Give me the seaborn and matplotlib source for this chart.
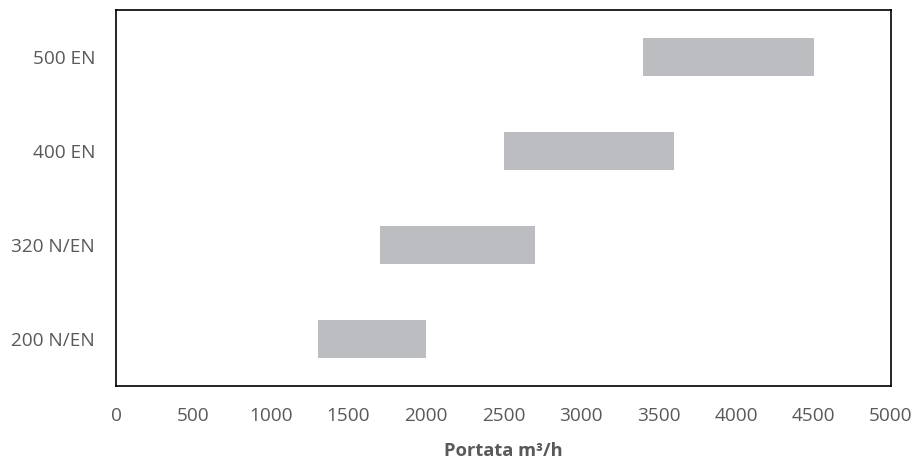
import matplotlib
matplotlib.use("Agg")
import matplotlib.pyplot as plt
import seaborn as sns
import pandas as pd

categories = ["500 EN", "400 EN", "320 N/EN", "200 N/EN"]
start_values = [3400, 2500, 1700, 1300]
end_values = [4500, 3600, 2700, 2000]
x_ticks = [0, 500, 1000, 1500, 2000, 2500, 3000, 3500, 4000, 4500, 5000]

sns.set_theme(style="white")
plt.rcParams["font.family"] = ["Open Sans", "DejaVu Sans"]

df = pd.DataFrame({
    "cat": categories,
    "start": start_values,
    "width": [e - s for s, e in zip(start_values, end_values)],
})

fig = plt.figure(figsize=(9.16, 4.59), dpi=100)
ax = fig.add_axes([116/916, 73/459, 775/916, 376/459])

sns.barplot(data=df, x="width", y="cat", orient="h", left=df["start"].values,
            color="#BCBDC0", saturation=1, width=0.4, ax=ax, edgecolor="none")

ax.set_xlim(0, 5000)
ax.set_ylim(3.5, -0.5)
ax.set_xticks(x_ticks)
ax.set_xticklabels([str(t) for t in x_ticks])
ax.tick_params(axis="both", length=0, labelsize=13.7, labelcolor="#595959")
ax.tick_params(axis="y", pad=15)
ax.tick_params(axis="x", pad=15)
ax.set_ylabel("")
ax.set_xlabel("Portata m³/h", fontsize=13.2, fontweight="bold", color="#595959", labelpad=12)
for sp in ax.spines.values():
    sp.set_visible(True)
    sp.set_color("black")
    sp.set_linewidth(1.2)

fig.savefig("out.png", dpi=100, facecolor="white")
